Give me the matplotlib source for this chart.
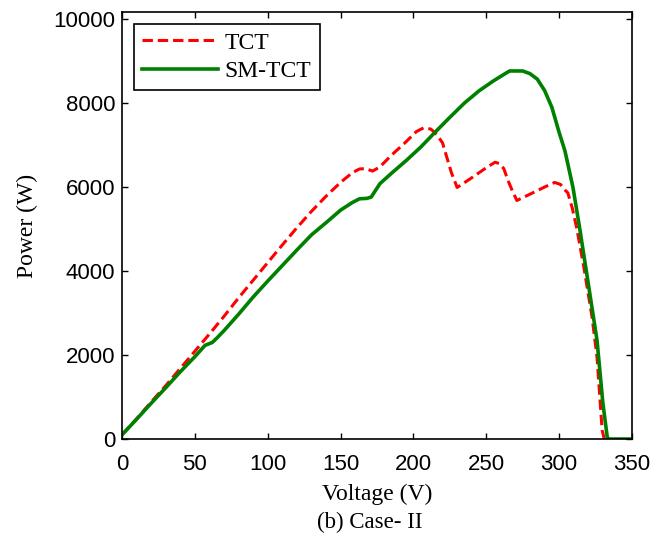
import matplotlib.pyplot as plt

# values
tct_v = [0, 10, 20, 30, 40, 50, 60, 70, 80, 90, 100, 110, 120, 130, 140, 150,
         158, 163, 167, 172, 177, 185, 195, 202, 207, 212, 216, 220, 223, 226,
         230, 240, 250, 256, 259, 262, 265, 268, 271, 280, 290, 297, 301, 304,
         306, 309, 312, 317, 322.6, 326, 329.5, 331]
tct_p = [100, 480, 880, 1270, 1680, 2090, 2500, 2920, 3360, 3780, 4200, 4620,
         5030, 5420, 5780, 6110, 6340, 6430, 6440, 6380, 6480, 6760, 7080, 7320,
         7410, 7380, 7250, 7050, 6700, 6350, 5990, 6220, 6460, 6590, 6560, 6440,
         6150, 5900, 5680, 5830, 6000, 6110, 6060, 5930, 5860, 5500, 5035, 4085,
         2900, 1950, 210, 0]

smtct_v = [0, 10, 20, 30, 40, 50, 57, 62, 65, 70, 80, 90, 100, 110, 120, 130,
           140, 150, 158, 163, 168, 171, 177, 185, 195, 205, 215, 225, 235, 245,
           255, 262, 266, 275, 280, 285, 290, 295, 300, 304, 309.5, 314, 320,
           326, 330, 333, 334, 350]
smtct_p = [100, 470, 850, 1220, 1600, 1960, 2230, 2300, 2400, 2580, 2970, 3380,
           3760, 4130, 4500, 4860, 5150, 5450, 5630, 5720, 5730, 5760, 6080,
           6330, 6630, 6950, 7310, 7660, 8000, 8290, 8530, 8680, 8764, 8764,
           8700, 8570, 8300, 7900, 7300, 6860, 5990, 5040, 3700, 2350, 860, 50,
           0, 0]

x_ticks = [0, 50, 100, 150, 200, 250, 300, 350]
y_ticks = [0, 2000, 4000, 6000, 8000, 10000]

serif = 'Liberation Serif'
sans = 'Liberation Sans'

fig = plt.figure(figsize=(6.68, 5.42), dpi=100)
ax = fig.add_axes([0.1826, 0.19, 0.7635, 0.788])

ax.plot(tct_v, tct_p, color='#ff0000', linestyle=(0, (3.4, 1.6)),
         linewidth=2.2, label='TCT')
ax.plot(smtct_v, smtct_p, color='#008000', linestyle='-',
         linewidth=2.6, label='SM-TCT')

ax.set_xlim(0, 350)
ax.set_ylim(0, 10170)
ax.set_xticks(x_ticks)
ax.set_yticks(y_ticks)
ax.tick_params(direction='in', length=4, width=1, top=True, right=True,
               labelsize=16)
ax.tick_params(axis='x', pad=11)
ax.tick_params(axis='y', pad=5)
for lab in ax.get_xticklabels() + ax.get_yticklabels():
    lab.set_fontfamily(sans)
for sp in ax.spines.values():
    sp.set_linewidth(1.2)

ax.set_xlabel('Voltage (V)', fontsize=17, fontfamily=serif, labelpad=6)
ax.set_ylabel('Power (W)', fontsize=17, fontfamily=serif, labelpad=11)

leg = ax.legend(loc='upper left', prop={'family': serif, 'size': 17},
                fancybox=False, edgecolor='black', framealpha=1,
                handlelength=3.2, handletextpad=0.3, borderpad=0.35,
                labelspacing=0.3, borderaxespad=0.5)
leg.get_frame().set_linewidth(1.2)

fig.text(0.553, 0.036, '(b) Case- II', ha='center', va='center',
         fontsize=16.5, fontfamily=serif)

plt.savefig('out.png', dpi=100)
